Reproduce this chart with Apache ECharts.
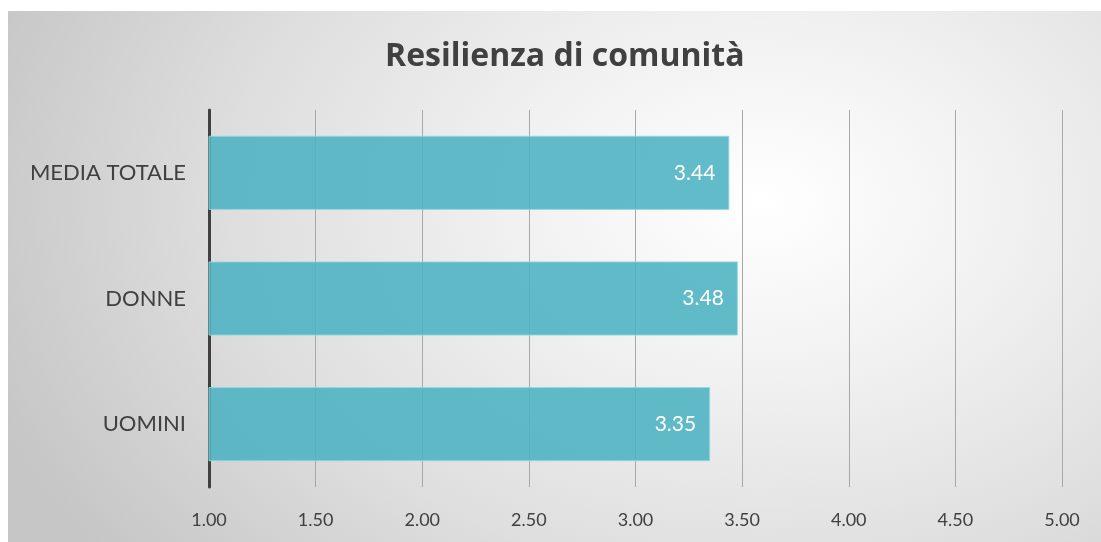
<!DOCTYPE html>
<html>
<head>
<meta charset="utf-8">
<script src="https://cdn.jsdelivr.net/npm/echarts@6/dist/echarts.min.js"></script>
<style>
  html, body { margin: 0; padding: 0; background: #ffffff; }
  #chart {
    position: absolute; left: 8px; top: 11px; width: 1093px; height: 531px;
    background: radial-gradient(ellipse 75% 110% at 69% 36%, #ffffff 0%, #f1f1f1 30%, #dedede 65%, #c6c6c6 100%);
  }
</style>
</head>
<body>
<div id="chart"></div>
<script>
// dati del grafico
const categories = ['UOMINI', 'DONNE', 'MEDIA TOTALE'];
const values = [3.35, 3.48, 3.44];
const xTicks = [1.0, 1.5, 2.0, 2.5, 3.0, 3.5, 4.0, 4.5, 5.0];

const myChart = echarts.init(document.getElementById('chart'));

const option = {
    backgroundColor: 'transparent',
    title: {
        text: 'Resilienza di comunità',
        left: 372,
        top: 25,
        textStyle: {
            fontFamily: 'Open Sans',
            fontWeight: 'bold',
            fontSize: 32,
            color: '#404040'
        }
    },
    grid: {
        left: 201,
        right: 39,
        top: 99,
        bottom: 55
    },
    xAxis: {
        type: 'value',
        min: xTicks[0],
        max: xTicks[xTicks.length - 1],
        interval: 0.5,
        axisLine: { show: false },
        axisTick: { show: false },
        splitLine: { lineStyle: { color: '#a8a8a8', width: 1 } },
        axisLabel: {
            margin: 24,
            fontFamily: 'Lato',
            fontSize: 18,
            color: '#404040',
            formatter: (v) => v.toFixed(2)
        }
    },
    yAxis: {
        type: 'category',
        data: categories,
        axisLine: { lineStyle: { color: '#404040', width: 3 } },
        axisTick: { show: false },
        axisLabel: {
            margin: 23,
            fontFamily: 'Lato',
            fontSize: 22,
            color: '#404040'
        }
    },
    series: [
        {
            type: 'bar',
            data: values,
            barWidth: '59%',
            itemStyle: {
                color: 'rgba(75, 178, 194, 0.88)',
                borderColor: 'rgba(150, 215, 225, 0.9)',
                borderWidth: 1
            },
            label: {
                show: true,
                position: 'insideRight',
                distance: 14,
                fontFamily: 'Lato',
                fontSize: 21,
                color: '#ffffff',
                formatter: (p) => p.value.toFixed(2)
            }
        }
    ]
};

myChart.setOption(option);
</script>
</body>
</html>
